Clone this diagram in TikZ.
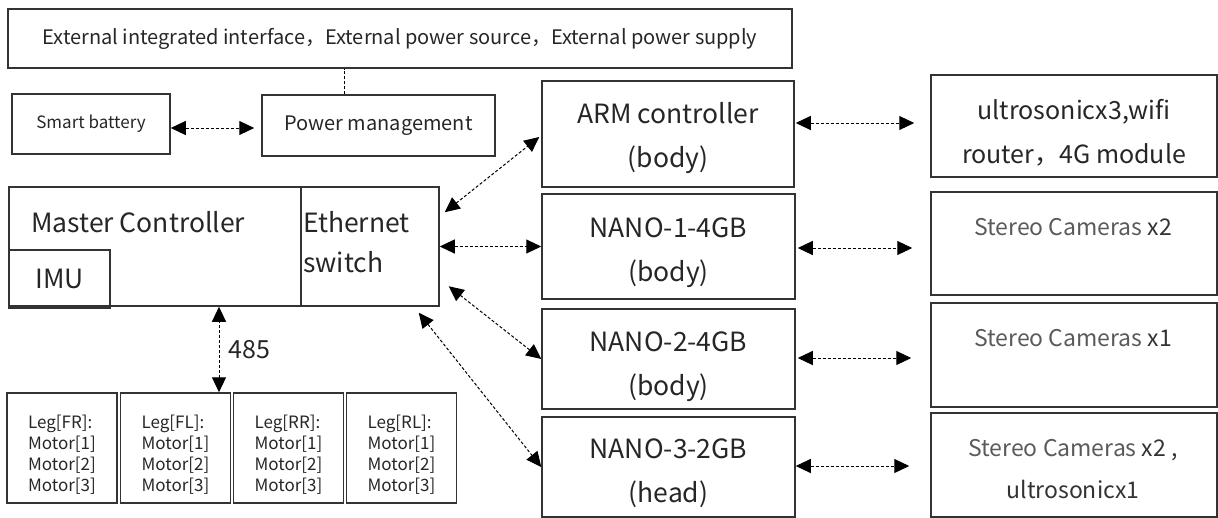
\documentclass[tikz,border=0pt]{standalone}
\usepackage{fontspec}
\setmainfont{Noto Sans CJK SC}
\usetikzlibrary{arrows.meta,positioning,calc}
\newcommand{\hugefs}{\fontsize{26.5}{44}\selectfont}
\newcommand{\midfs}{\fontsize{20}{26}\selectfont}
\newcommand{\smallfs}{\fontsize{17}{21}\selectfont}
\definecolor{camgray}{HTML}{5A5A5A}

\begin{document}
\begin{tikzpicture}[x=1pt,y=-1pt]
  \tikzstyle{box} = [draw=black!80, line width=1.5pt, rectangle, inner sep=0pt, align=center, text=black!85]
  \tikzstyle{txt} = [inner sep=0pt, align=center, text=black!85, font=\hugefs]
  \tikzstyle{biarrow} = [dash pattern=on 3pt off 2pt, line width=1pt, {Triangle[length=15pt,width=14pt]}-{Triangle[length=15pt,width=14pt]}]
  \useasboundingbox (0,0) rectangle (1218,517);

  % power supply
  \node[box, minimum width=784pt, minimum height=59pt, font=\midfs] (ext) at (400,38.5) {External integrated interface，External power source，External power supply};
  \node[box, minimum width=158pt, minimum height=60pt, font=\smallfs] (battery) at (91,124) {Smart battery};
  \node[box, minimum width=233pt, minimum height=61pt, font=\fontsize{20}{26}\selectfont] (power) at (378.5,125.5) {Power management};

  \draw[dash pattern=on 3pt off 2pt, line width=1pt] ([xshift=-34.5pt]power.north) -- ([xshift=-34.5pt]power.north |- ext.south);
  \draw[biarrow, shorten >=7pt] ([yshift=-4pt]battery.east) -- ([yshift=-4pt]battery.east -| power.west);

  % master controller
  \node[box, minimum width=292pt, minimum height=119pt] (master) at (155,246.5) {};
  \node[box, minimum width=138pt, minimum height=119pt] (eth) at (370,246.5) {};
  \node[box, minimum width=101pt, minimum height=58pt, font=\hugefs] (imu) at (59.5,279) {IMU};
  \node[txt, anchor=west] (mastertxt) at (31,222) {Master Controller};
  \node[txt, anchor=west, align=left, font=\fontsize{26.5}{40}\selectfont] (ethtxt) at (303,242) {Ethernet\\switch};

  % legs
  \foreach \xc/\nm/\lg in {62/legfr/FR, 175.5/legfl/FL, 288.5/legrr/RR, 401.5/legrl/RL}{
    \node[box, minimum width=110pt, minimum height=110pt] (\nm) at (\xc,448) {};
    \node[txt, align=left, font=\smallfs] (\nm txt) at (\xc,455) {Leg[\lg]:\\Motor[1]\\Motor[2]\\Motor[3]};
  }

  \draw[biarrow] ([xshift=43.5pt]legfl.north) -- ([xshift=43.5pt]legfl.north |- master.south)
    node[midway, right=6pt, text=black!85, font=\fontsize{25}{30}\selectfont] (bus) {485};

  % computers
  \node[box, minimum width=252pt, minimum height=106pt] (arm) at (668,134) {};
  \node[box, minimum width=253pt, minimum height=105pt] (nano1) at (668.5,246.5) {};
  \node[box, minimum width=253pt, minimum height=100pt] (nano2) at (668.5,359) {};
  \node[box, minimum width=253pt, minimum height=100pt] (nano3) at (668.5,467) {};
  \node[txt] (armtxt) at (668,138.5) {ARM controller\\(body)};
  \node[txt] (nano1txt) at (668.5,252.5) {NANO-1-4GB\\(body)};
  \node[txt] (nano2txt) at (668.5,366.5) {NANO-2-4GB\\(body)};
  \node[txt] (nano3txt) at (668.5,473) {NANO-3-2GB\\(head)};

  \draw[biarrow] ([shift={(5,26)}]eth.north east) -- ([shift={(-2,3)}]arm.west);
  \draw[biarrow] (eth.east) -- (nano1.west);
  \draw[biarrow] ([shift={(9,100)}]eth.north east) -- (nano2.west);
  \draw[biarrow] ([shift={(-21,6)}]eth.south east) -- (nano3.west);

  % sensors
  \node[box, minimum width=286pt, minimum height=102pt] (ultro) at (1074,126) {};
  \node[box, minimum width=286pt, minimum height=103pt] (cam2) at (1074,243.5) {};
  \node[box, minimum width=286pt, minimum height=104pt] (cam1) at (1074,355) {};
  \node[box, minimum width=286pt, minimum height=104pt] (cam3) at (1074,465) {};
  \node[txt, font=\fontsize{25}{44}\selectfont] (ultrotxt) at (1074,132.5) {ultrosonicx3,wifi\\router，4G module};
  \node[text=camgray, font=\fontsize{23}{26}\selectfont] (cam2txt) at (1073,227) {Stereo Cameras \textcolor{black!80}{x2}};
  \node[text=camgray, font=\fontsize{23}{26}\selectfont] (cam1txt) at (1073,338) {Stereo Cameras \textcolor{black!80}{x1}};
  \node[text=camgray, align=center, font=\fontsize{23}{42}\selectfont] (cam3txt) at (1073,469) {Stereo Cameras \textcolor{black!80}{x2 ,}\\\textcolor{black!80}{ultrosonicx1}};

  \draw[biarrow] ([shift={(1,-11)}]arm.east) -- ([shift={(-16,-3)}]ultro.west);
  \draw[biarrow] ([shift={(2,1.5)}]nano1.east) -- ([shift={(-18,4.5)}]cam2.west);
  \draw[biarrow] ([shift={(2,-1)}]nano2.east) -- ([shift={(-19,3)}]cam1.west);
  \draw[biarrow] ([shift={(0,-1)}]nano3.east) -- ([shift={(-21,1)}]cam3.west);
\end{tikzpicture}
\end{document}
